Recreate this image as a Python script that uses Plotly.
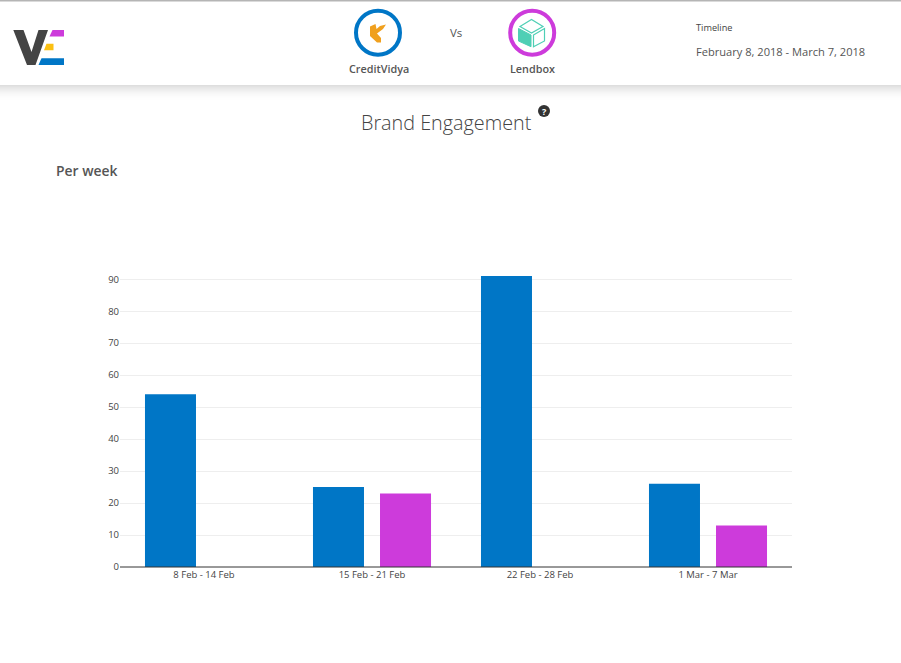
import plotly.graph_objects as go

weeks = ["8 Feb - 14 Feb", "15 Feb - 21 Feb", "22 Feb - 28 Feb", "1 Mar - 7 Mar"]
creditvidya = [54, 25, 91, 26]
lendbox = [0, 23, 0, 13]
y_ticks = [0, 10, 20, 30, 40, 50, 60, 70, 80, 90]

W, H = 901, 663
L, R, T, B = 120, 109, 276, 96
BLUE, PURPLE = "#0076c6", "#cd3bdb"
TEAL, ORANGE = "#4fcfb5", "#f0a01e"
FONT = "Open Sans"


def px(x):
    return (x - L) / (W - L - R)


def py(y):
    return 1 - (y - T) / (H - T - B)


def rect(x0, y0, x1, y1, color, opacity=1.0):
    return dict(type="rect", xref="paper", yref="paper", x0=px(x0), x1=px(x1), y0=py(y0), y1=py(y1),
                fillcolor=color, line_width=0, opacity=opacity, layer="below")


def circle(cx, cy, r, fill, line=None, lw=0):
    return dict(type="circle", xref="paper", yref="paper", x0=px(cx - r), x1=px(cx + r),
                y0=py(cy - r), y1=py(cy + r), fillcolor=fill, line=dict(color=line or fill, width=lw), layer="below")


def poly(points, fill="rgba(0,0,0,0)", line=None, lw=0):
    d = "M " + " L ".join(f"{px(x):.5f},{py(y):.5f}" for x, y in points) + " Z"
    return dict(type="path", xref="paper", yref="paper", path=d, fillcolor=fill,
                line=dict(color=line or fill, width=lw), layer="above")


def text(x, y, s, size, color="#444444", anchor="left", weight=400):
    return dict(xref="paper", yref="paper", x=px(x), y=py(y), text=s, showarrow=False, xanchor=anchor,
                yanchor="middle", align=anchor, borderpad=0,
                font=dict(family=FONT, size=size, color=color, weight=weight))


shapes = [rect(0, 0, W, 1.5, "#b5b5b5")]
for i in range(16):
    shapes.append(rect(0, 85 + i, W, 86 + i, "#000000", 0.13 * (1 - i / 16) ** 2))
# axis baseline
shapes.append(dict(type="line", xref="paper", yref="paper", x0=px(120), x1=px(792), y0=py(567), y1=py(567),
                   line=dict(color="#333333", width=1), layer="above"))
# brand rings
shapes += [circle(378, 32.7, 22, "#ffffff", BLUE, 4), circle(532.2, 32.7, 22, "#ffffff", PURPLE, 4)]
# site logo
shapes += [
    poly([(13.3, 30), (23.5, 30), (31.5, 52), (38.5, 30), (48, 30), (35.5, 65), (27, 65)], "#444444"),
    poly([(52.5, 30), (64, 30), (64, 36.5), (49.5, 36.5)], PURPLE),
    poly([(46.5, 43.7), (53.5, 43.7), (53.5, 50.3), (44, 50.3)], "#fbc012"),
    poly([(41.5, 58.3), (64, 58.3), (64, 65), (38.5, 65)], BLUE),
]
# CreditVidya glyph
shapes.append(poly([(370, 26.5), (375.5, 24), (376.5, 29), (380, 26), (386, 24.5), (383, 29), (377, 33.5),
                    (381, 38), (381, 42.5), (377, 42.5), (370, 36)], ORANGE))
# Lendbox cube glyph
shapes += [
    poly([(520, 26.5), (531.5, 19.5), (543, 26.5), (531.5, 33)], "#ffffff", TEAL, 1.2),
    poly([(518.5, 28.5), (531, 35), (531, 46.7), (518.5, 41)], TEAL, TEAL, 1),
    poly([(533.5, 35), (544.5, 28.5), (544.5, 41), (533.5, 46.7)], "#ffffff", TEAL, 1.2),
]
# help icon
shapes.append(circle(544, 111, 6, "#333333"))

annotations = [
    text(378.5, 69, "CreditVidya", 10.8, "#555555", "center", 600),
    text(532.5, 69, "Lendbox", 10.8, "#555555", "center", 600),
    text(455.5, 32.5, "Vs", 11.5, "#555555", "center"),
    text(695, 28, "Timeline", 9.2, "#444444"),
    text(695, 51, "February 8, 2018 - March 7, 2018", 11.1, "#555555"),
    text(446.5, 122, "Brand Engagement", 19.8, "#444444", "center", 300),
    text(544, 111, "?", 9, "#ffffff", "center", 700),
    text(55, 170.5, "Per week", 13.9, "#555555", "left", 600),
]

fig = go.Figure()
fig.add_bar(name="CreditVidya", x=weeks, y=creditvidya, marker=dict(color=BLUE, line_width=0))
fig.add_bar(name="Lendbox", x=weeks, y=lendbox, marker=dict(color=PURPLE, line_width=0))
fig.update_layout(
    width=W, height=H, margin=dict(l=L, r=R, t=T, b=B, pad=0), autosize=False,
    paper_bgcolor="#ffffff", plot_bgcolor="#ffffff", showlegend=False,
    barmode="group", bargap=0.202, bargroupgap=0.239,
    shapes=shapes, annotations=annotations, font=dict(family=FONT),
)
fig.update_xaxes(type="category", showgrid=False, showline=False, zeroline=False, ticks="", ticklen=0,
                 tickangle=0, tickfont=dict(size=9.5, color="#444444", family=FONT))
fig.update_yaxes(range=[0, 91], tickvals=y_ticks, showgrid=True, gridcolor="#eeeeee", gridwidth=1,
                 zeroline=False, showline=False, ticks="", ticklen=0,
                 tickfont=dict(size=9.5, color="#444444", family=FONT))
fig.write_html("out.html", config=dict(displayModeBar=False),
               post_script="document.body.style.margin='0';document.documentElement.style.overflow='hidden';")
